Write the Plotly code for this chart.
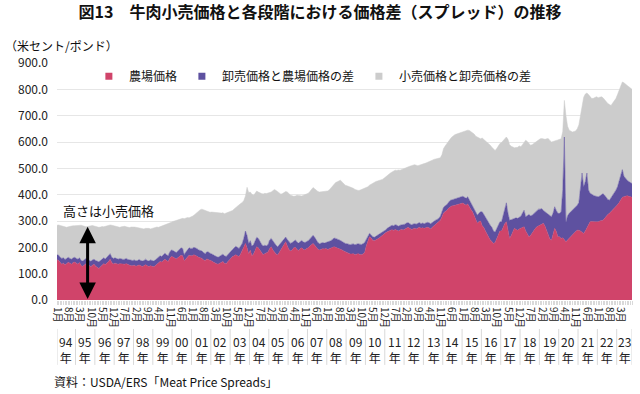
import plotly.graph_objects as go

# ---------------- data (US cents / lb), monthly Jan 1994 - Oct 2023 ----------------
year_labels = ["94", "95", "96", "97", "98", "99", "00", "01", "02", "03", "04", "05",
               "06", "07", "08", "09", "10", "11", "12", "13", "14", "15", "16", "17",
               "18", "19", "20", "21", "22", "23"]

retail_price = [
    284, 285, 283, 281, 279, 277, 276, 278, 280, 281, 282, 282,   # 1994
    283, 284, 285, 284, 282, 280, 278, 279, 281, 282, 283, 281,   # 1995
    279, 278, 276, 277, 279, 278, 280, 281, 283, 285, 284, 282,   # 1996
    280, 278, 277, 276, 278, 279, 280, 278, 276, 275, 277, 278,   # 1997
    277, 276, 275, 273, 272, 271, 270, 272, 273, 272, 270, 272,   # 1998
    273, 275, 277, 276, 278, 281, 283, 285, 287, 290, 292, 295,   # 1999
    298, 300, 303, 305, 307, 308, 310, 309, 311, 313, 312, 314,   # 2000
    318, 322, 327, 335, 340, 343, 345, 342, 340, 338, 335, 333,   # 2001
    334, 333, 332, 331, 330, 329, 330, 331, 328, 330, 332, 333,   # 2002
    335, 340, 346, 352, 358, 362, 366, 370, 378, 395, 428, 408,   # 2003
    410, 402, 398, 405, 414, 410, 406, 404, 403, 405, 404, 406,   # 2004
    406, 410, 415, 420, 416, 410, 405, 402, 404, 408, 412, 410,   # 2005
    402, 398, 396, 394, 395, 398, 397, 396, 395, 398, 400, 402,   # 2006
    405, 412, 420, 427, 422, 415, 412, 410, 411, 413, 412, 414,   # 2007
    414, 418, 425, 432, 440, 446, 449, 452, 455, 448, 440, 436,   # 2008
    434, 432, 430, 428, 424, 420, 418, 416, 417, 419, 422, 424,   # 2009
    426, 430, 436, 440, 445, 448, 450, 452, 454, 455, 458, 462,   # 2010
    468, 474, 478, 482, 486, 490, 493, 492, 494, 493, 496, 498,   # 2011
    500, 502, 505, 508, 510, 512, 514, 512, 510, 512, 515, 518,   # 2012
    518, 520, 522, 525, 528, 531, 534, 536, 537, 538, 540, 552,   # 2013
    575, 585, 595, 603, 610, 618, 625, 628, 630, 632, 634, 636,   # 2014
    638, 640, 642, 645, 644, 640, 635, 630, 622, 618, 615, 612,   # 2015
    615, 610, 604, 598, 592, 588, 580, 572, 568, 575, 585, 594,   # 2016
    598, 605, 612, 619, 610, 590, 584, 580, 578, 579, 580, 585,   # 2017
    582, 590, 600, 607, 602, 595, 588, 590, 595, 600, 605, 610,   # 2018
    612, 613, 612, 610, 612, 613, 606, 600, 602, 605, 607, 608,   # 2019
    610, 612, 640, 758, 700, 660, 645, 640, 638, 640, 642, 650,   # 2020
    665, 700, 745, 770, 782, 786, 780, 772, 765, 766, 770, 772,   # 2021
    768, 770, 772, 768, 760, 752, 746, 742, 739, 748, 756, 765,   # 2022
    780, 795, 810, 828, 825, 818, 815, 810, 805, 800,             # 2023
]

wholesale_price = [
    172, 170, 162, 158, 160, 154, 158, 162, 158, 155, 160, 162,   # 1994
    158, 155, 160, 150, 148, 152, 158, 155, 150, 147, 152, 155,   # 1995
    150, 146, 145, 150, 155, 160, 156, 162, 168, 176, 162, 158,   # 1996
    160, 157, 155, 158, 156, 154, 155, 158, 154, 152, 150, 150,   # 1997
    152, 149, 150, 154, 150, 148, 150, 155, 150, 148, 152, 150,   # 1998
    148, 152, 158, 162, 168, 165, 170, 178, 172, 168, 182, 190,   # 1999
    188, 184, 180, 186, 192, 198, 196, 172, 182, 192, 198, 196,   # 2000
    196, 200, 198, 195, 190, 188, 186, 180, 176, 183, 182, 178,   # 2001
    176, 172, 168, 165, 162, 166, 170, 174, 168, 165, 172, 180,   # 2002
    188, 192, 198, 204, 200, 196, 205, 215, 235, 262, 245, 215,   # 2003
    225, 205, 210, 225, 238, 234, 222, 212, 205, 208, 206, 210,   # 2004
    228, 234, 225, 215, 208, 202, 210, 218, 225, 232, 239, 230,   # 2005
    222, 215, 218, 225, 228, 220, 216, 222, 226, 220, 218, 222,   # 2006
    225, 232, 240, 246, 238, 228, 218, 214, 215, 218, 216, 218,   # 2007
    218, 222, 225, 230, 235, 234, 232, 228, 226, 222, 218, 215,   # 2008
    214, 212, 210, 212, 213, 210, 212, 214, 212, 211, 214, 218,   # 2009
    230, 245, 253, 248, 240, 238, 242, 245, 248, 252, 258, 262,   # 2010
    266, 272, 276, 280, 284, 282, 286, 284, 280, 284, 286, 285,   # 2011
    288, 292, 294, 290, 286, 288, 290, 288, 292, 294, 290, 292,   # 2012
    290, 292, 295, 293, 290, 294, 300, 303, 306, 310, 318, 335,   # 2013
    352, 358, 362, 370, 378, 380, 382, 384, 386, 388, 390, 392,   # 2014
    394, 390, 386, 392, 380, 372, 362, 350, 335, 322, 330, 335,   # 2015
    335, 325, 312, 300, 290, 284, 276, 262, 258, 270, 285, 297,   # 2016
    297, 320, 350, 369, 330, 303, 305, 308, 310, 312, 310, 315,   # 2017
    318, 330, 341, 316, 320, 325, 320, 322, 328, 335, 340, 345,   # 2018
    345, 347, 340, 335, 330, 325, 318, 316, 330, 354, 340, 329,   # 2019
    329, 335, 420, 619, 295, 320, 329, 335, 341, 348, 355, 360,   # 2020
    370, 430, 482, 430, 450, 482, 418, 405, 400, 398, 395, 392,   # 2021
    392, 395, 398, 404, 398, 390, 382, 379, 388, 398, 408, 417,   # 2022
    430, 450, 478, 495, 470, 461, 455, 450, 446, 442,             # 2023
]

farm_price = [
    153, 150, 142, 136, 140, 134, 138, 143, 140, 136, 142, 144,   # 1994
    140, 136, 142, 130, 128, 133, 138, 136, 130, 126, 132, 136,   # 1995
    128, 122, 120, 126, 132, 138, 135, 140, 146, 155, 142, 137,   # 1996
    140, 138, 136, 138, 137, 135, 136, 138, 135, 132, 130, 130,   # 1997
    132, 128, 130, 133, 130, 127, 130, 134, 130, 127, 130, 128,   # 1998
    126, 130, 136, 140, 146, 144, 148, 155, 150, 146, 158, 165,   # 1999
    163, 160, 156, 160, 166, 170, 168, 148, 156, 165, 170, 168,   # 2000
    168, 172, 170, 166, 162, 160, 158, 152, 150, 156, 154, 150,   # 2001
    148, 144, 140, 138, 136, 140, 143, 146, 140, 138, 145, 152,   # 2002
    160, 165, 168, 172, 168, 165, 175, 188, 205, 215, 198, 175,   # 2003
    190, 168, 175, 192, 202, 198, 188, 178, 172, 176, 178, 182,   # 2004
    195, 202, 190, 180, 175, 171, 180, 190, 198, 210, 221, 205,   # 2005
    192, 186, 190, 198, 200, 192, 188, 195, 198, 192, 190, 196,   # 2006
    198, 205, 210, 215, 208, 200, 193, 190, 192, 195, 194, 196,   # 2007
    192, 195, 198, 200, 202, 200, 198, 196, 194, 190, 186, 183,   # 2008
    180, 177, 175, 175, 176, 172, 174, 176, 173, 172, 175, 180,   # 2009
    205, 225, 240, 235, 227, 225, 230, 232, 235, 240, 248, 252,   # 2010
    255, 259, 262, 265, 267, 264, 268, 265, 262, 266, 268, 266,   # 2011
    270, 275, 276, 272, 268, 270, 272, 270, 274, 276, 272, 274,   # 2012
    272, 274, 276, 274, 270, 276, 282, 286, 290, 296, 303, 315,   # 2013
    330, 336, 340, 348, 354, 357, 358, 360, 362, 364, 366, 368,   # 2014
    368, 364, 360, 365, 352, 344, 335, 322, 305, 291, 298, 300,   # 2015
    282, 275, 262, 250, 238, 228, 222, 215, 218, 232, 246, 262,   # 2016
    262, 278, 290, 297, 270, 234, 245, 260, 272, 268, 265, 270,   # 2017
    272, 276, 278, 262, 250, 240, 245, 255, 265, 272, 278, 282,   # 2018
    286, 290, 291, 280, 262, 245, 232, 227, 250, 272, 260, 240,   # 2019
    240, 234, 236, 228, 221, 228, 235, 240, 248, 255, 260, 265,   # 2020
    265, 262, 258, 253, 262, 275, 288, 297, 298, 296, 297, 297,   # 2021
    297, 300, 302, 303, 310, 318, 325, 329, 335, 342, 348, 354,   # 2022
    362, 370, 379, 390, 392, 395, 396, 394, 392, 390,             # 2023
]

series_names = ["農場価格", "卸売価格と農場価格の差", "小売価格と卸売価格の差"]
y_tick_values = [0, 100, 200, 300, 400, 500, 600, 700, 800, 900]
month_names = ["1月", "2月", "3月", "4月", "5月", "6月", "7月", "8月", "9月", "10月", "11月", "12月"]

# ---------------- derived ----------------
n = len(farm_price)
x = list(range(n))
spread_wf = [w - f for w, f in zip(wholesale_price, farm_price)]
spread_rw = [r - w for r, w in zip(retail_price, wholesale_price)]

PINK = "#D0446A"
PURPLE = "#5E51A0"
GRAY = "#CCCCCC"
FONT = "Noto Sans CJK JP"

fig = go.Figure()
for vals, name, col in [(farm_price, series_names[0], PINK),
                        (spread_wf, series_names[1], PURPLE),
                        (spread_rw, series_names[2], GRAY)]:
    fig.add_trace(go.Scatter(x=x, y=vals, name=name, stackgroup="one", mode="lines",
                             line=dict(width=0.5, color=col), fillcolor=col,
                             showlegend=False))
# legend entries with square markers
for name, col in zip(series_names, [PINK, PURPLE, GRAY]):
    fig.add_trace(go.Scatter(x=[None], y=[None], name=name, mode="markers",
                             marker=dict(symbol="square", size=7, color=col)))

tickvals = list(range(0, n, 7))
ticktext = [month_names[i % 12] for i in tickvals]

# plot geometry (pixels) for paper conversions
L, R = 57.0, 632.0
T, B = 62.7, 300.0
H = B - T
W = R - L
def py(p):
    return (B - p) / H
def px(p):
    return (p - L) / W

shapes = []
bounds = [0] + [12 * k - 0.5 for k in range(1, len(year_labels))] + [n - 1]
for bx in bounds:
    shapes.append(dict(type="line", xref="x", yref="paper", x0=bx, x1=bx,
                       y0=py(329), y1=py(365), line=dict(color="#D9D9D9", width=1)))

annotations = []
for k, yl in enumerate(year_labels):
    start = 12 * k
    end = min(12 * k + 11, n - 1)
    annotations.append(dict(x=(start + end) / 2, y=py(350), xref="x", yref="paper",
                            text=yl + "<br>年", showarrow=False,
                            font=dict(size=12, color="#222", family=FONT),
                            xanchor="center", yanchor="middle"))

# double-headed arrow
annotations.append(dict(x=19, y=4, ax=19, ay=284, xref="x", yref="y", axref="x", ayref="y",
                        text="", showarrow=True, arrowhead=2, arrowside="end+start",
                        arrowsize=1.1, arrowwidth=3, arrowcolor="#000"))
annotations.append(dict(x=32, y=338, xref="x", yref="y", text="高さは小売価格",
                        showarrow=False, font=dict(size=13, color="#111", family=FONT),
                        xanchor="center", yanchor="middle"))
# unit label
annotations.append(dict(x=px(3), y=py(45), xref="paper", yref="paper", text="（米セント/ポンド）",
                        showarrow=False, font=dict(size=12, color="#111", family=FONT),
                        xanchor="left", yanchor="middle"))
# source
annotations.append(dict(x=px(52), y=py(382), xref="paper", yref="paper",
                        text="資料：USDA/ERS「Meat Price Spreads」",
                        showarrow=False, font=dict(size=12, color="#111", family=FONT),
                        xanchor="left", yanchor="middle"))

fig.update_layout(
    width=640, height=394,
    margin=dict(l=L, r=640 - R, t=T, b=394 - B),
    paper_bgcolor="white", plot_bgcolor="white",
    font=dict(family=FONT, color="#111"),
    title=dict(text="<b>図13　牛肉小売価格と各段階における価格差（スプレッド）の推移</b>",
               x=0.5, xanchor="center", y=1 - 12 / 394, yanchor="middle",
               font=dict(size=16, family=FONT, color="#111")),
    showlegend=True,
    legend=dict(orientation="h", x=0.445, xanchor="center", y=py(76), yanchor="middle",
                bgcolor="rgba(0,0,0,0)", font=dict(size=12, family=FONT),
                itemwidth=30, traceorder="normal"),
    shapes=shapes,
    annotations=annotations,
    hovermode=False,
)
fig.update_xaxes(range=[0, n - 1], tickmode="array", tickvals=tickvals, ticktext=ticktext,
                 tickangle=90, tickfont=dict(size=10, family=FONT, color="#222"),
                 ticks="outside", ticklen=4, tickcolor="#D9D9D9",
                 minor=dict(tickmode="linear", tick0=0, dtick=1, ticks="outside",
                            ticklen=4, tickcolor="#D9D9D9"),
                 showgrid=False, zeroline=False, showline=False, fixedrange=True)
fig.update_yaxes(range=[0, 900], tickmode="array", tickvals=y_tick_values,
                 ticktext=[f"{v:.1f}" for v in y_tick_values],
                 tickfont=dict(size=12, family=FONT, color="#222"),
                 gridcolor="#E6E6E6", gridwidth=1, zeroline=False, showline=False,
                 ticklabelstandoff=8, fixedrange=True)

fig.write_html("out.html", config={"displayModeBar": False},
               post_script="document.body.style.margin='0px';document.body.style.overflow='hidden';")
